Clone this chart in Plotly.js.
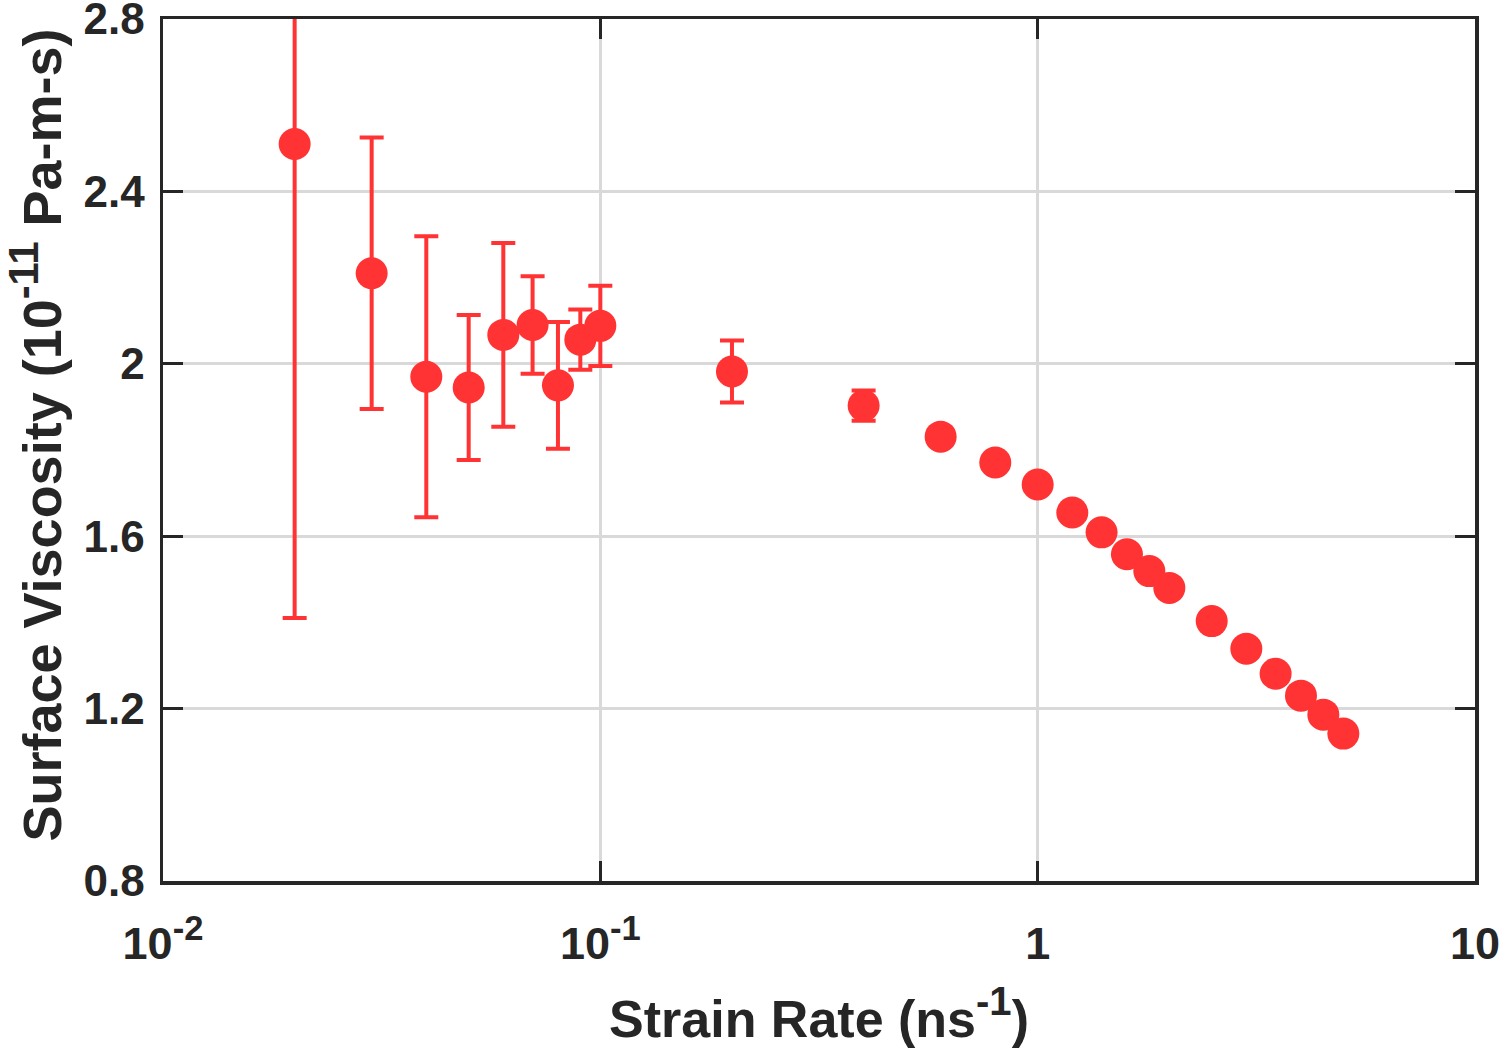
<!DOCTYPE html>
<html>
<head>
<meta charset="utf-8">
<script src="https://cdn.plot.ly/plotly-3.0.1.min.js"></script>
<style>html,body{margin:0;padding:0;background:#fff;}#chart{width:1500px;height:1054px;}</style>
</head>
<body>
<div id="chart"></div>
<script>
const strainRate = [0.02, 0.03, 0.04, 0.05, 0.06, 0.07, 0.08, 0.09, 0.1, 0.2, 0.4, 0.6, 0.8, 1.0, 1.2, 1.4, 1.6, 1.8, 2.0, 2.5, 3.0, 3.5, 4.0, 4.5, 5.0];
const viscosity = [2.51, 2.21, 1.97, 1.945, 2.067, 2.09, 1.95, 2.056, 2.088, 1.982, 1.903, 1.831, 1.771, 1.72, 1.655, 1.609, 1.558, 1.519, 1.48, 1.403, 1.339, 1.281, 1.23, 1.186, 1.142];
const viscosityErr = [1.1, 0.315, 0.326, 0.168, 0.213, 0.113, 0.147, 0.07, 0.093, 0.072, 0.035, 0, 0, 0, 0, 0, 0, 0, 0, 0, 0, 0, 0, 0, 0];
const xTickVals = [0.01, 0.1, 1, 10];
const xTickText = ['10<sup><span style="font-size:1.1em">-2</span></sup>', '10<sup><span style="font-size:1.1em">-1</span></sup>', '1', '10'];
const yTickVals = [0.8, 1.2, 1.6, 2.0, 2.4, 2.8];
const yTickText = ['0.8', '1.2', '1.6', '2', '2.4', '2.8'];

const red = 'rgb(255,51,51)';
const axisColor = '#262626';
const gridColor = '#d9d9d9';
const fontFamily = '"Liberation Sans", Arial, sans-serif';

const trace = {
  x: strainRate,
  y: viscosity,
  type: 'scatter',
  mode: 'markers',
  marker: {color: red, size: 32, line: {width: 0}},
  error_y: {type: 'data', array: viscosityErr, visible: true, color: red, thickness: 4, width: 12}
};

const layout = {
  width: 1500,
  height: 1054,
  paper_bgcolor: '#fff',
  plot_bgcolor: '#fff',
  showlegend: false,
  margin: {l: 163, r: 25, t: 19, b: 173},
  font: {family: fontFamily, color: axisColor},
  xaxis: {
    type: 'log',
    range: [-2, 1],
    tickvals: xTickVals,
    ticktext: xTickText,
    ticklabeloverflow: 'allow',
    ticklabelstandoff: 20,
    showgrid: true,
    gridcolor: gridColor,
    gridwidth: 3,
    zeroline: false,
    showline: true,
    linecolor: axisColor,
    linewidth: 3.5,
    mirror: 'ticks',
    ticks: 'inside',
    ticklen: 20,
    tickwidth: 3,
    tickcolor: axisColor,
    tickfont: {family: fontFamily, size: 45, color: axisColor, weight: 'bold'},
    title: {text: '<b>Strain Rate (ns<sup><span style="font-size:1.1em">-1</span></sup>)</b>', font: {family: fontFamily, size: 52, color: axisColor}, standoff: 34}
  },
  yaxis: {
    range: [0.8, 2.8],
    tickvals: yTickVals,
    ticktext: yTickText,
    ticklabeloverflow: 'allow',
    ticklabelstandoff: 6,
    showgrid: true,
    gridcolor: gridColor,
    gridwidth: 3,
    zeroline: false,
    showline: true,
    linecolor: axisColor,
    linewidth: 3.5,
    mirror: 'ticks',
    ticks: 'inside',
    ticklen: 20,
    tickwidth: 3,
    tickcolor: axisColor,
    tickfont: {family: fontFamily, size: 44, color: axisColor, weight: 'bold'},
    title: {text: '<b>\u00A0\u00A0Surface Viscosity (10<sup><span style="font-size:1.1em">-11</span></sup> Pa-m-s)</b>', font: {family: fontFamily, size: 54, color: axisColor}, standoff: 14}
  }
};

Plotly.newPlot('chart', [trace], layout, {displayModeBar: false, staticPlot: true});
</script>
</body>
</html>
